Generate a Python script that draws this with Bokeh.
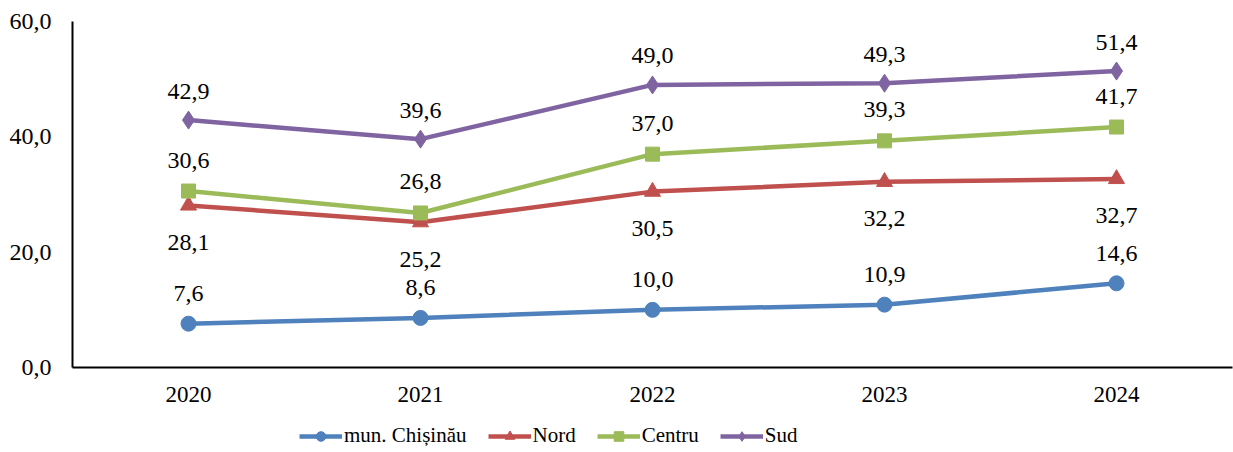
from bokeh.plotting import figure
from bokeh.layouts import column
from bokeh.models import ColumnDataSource, FixedTicker, Legend, LegendItem, LabelSet, Range1d, FactorRange
from bokeh.embed import file_html
from bokeh.resources import INLINE

years = ["2020", "2021", "2022", "2023", "2024"]
chisinau = [7.6, 8.6, 10.0, 10.9, 14.6]
nord = [28.1, 25.2, 30.5, 32.2, 32.7]
centru = [30.6, 26.8, 37.0, 39.3, 41.7]
sud = [42.9, 39.6, 49.0, 49.3, 51.4]
y_ticks = [0, 20, 40, 60]

FONT = "Liberation Serif"

p = figure(width=1233, height=413, x_range=FactorRange(*years), y_range=Range1d(0, 60),
           output_backend="svg", toolbar_location=None,
           min_border_left=72, min_border_right=1, min_border_top=21, min_border_bottom=46)
p.outline_line_color = None
p.grid.grid_line_color = None
p.background_fill_color = "white"

p.yaxis.ticker = FixedTicker(ticks=y_ticks)
p.yaxis.major_label_overrides = {t: f"{t:.1f}".replace(".", ",") for t in y_ticks}
p.yaxis.major_tick_line_color = None
p.yaxis.minor_tick_line_color = None
p.yaxis.axis_line_color = "black"
p.yaxis.axis_line_width = 2
p.yaxis.major_label_standoff = 15
p.yaxis.major_label_text_font_size = "24px"
p.xaxis.major_tick_line_color = None
p.xaxis.major_tick_out = 0
p.xaxis.axis_line_color = "black"
p.xaxis.axis_line_width = 2
p.xaxis.major_label_standoff = 19
p.xaxis.major_label_text_font_size = "23px"
for ax in (p.xaxis, p.yaxis):
    ax.major_label_text_font = FONT
    ax.major_label_text_color = "black"

series = [
    ("mun. Chișinău", chisinau, "#4F81BD", "circle", 15, -30),
    ("Nord", nord, "#C0504D", "triangle", 16, 37),
    ("Centru", centru, "#9BBB59", "square", 14, -31),
    ("Sud", sud, "#8064A2", "diamond", 18, -29),
]

# separate strip below the chart that holds the legend
lg = figure(width=1233, height=39, x_range=Range1d(0, 1), y_range=Range1d(0, 1),
            x_axis_location=None, y_axis_location=None,
            output_backend="svg", toolbar_location=None,
            min_border_left=0, min_border_right=0, min_border_top=0, min_border_bottom=0)
lg.grid.grid_line_color = None
lg.outline_line_color = None

items = []
for name, vals, color, marker, size, off in series:
    src = ColumnDataSource(dict(x=years, y=vals, lbl=[f"{v:.1f}".replace(".", ",") for v in vals]))
    p.line("x", "y", source=src, line_color=color, line_width=4.5)
    p.scatter("x", "y", source=src, marker=marker, size=size, fill_color=color, line_color=color)
    labels = LabelSet(x="x", y="y", text="lbl", source=src, y_offset=-off,
                      text_align="center", text_baseline="middle",
                      text_font=FONT, text_font_size="24px", text_color="black")
    p.add_layout(labels)
    # legend proxies: placed outside the strip's ranges so only the legend shows them
    proxy = ColumnDataSource(dict(x=[5, 6], y=[5, 5]))
    ln = lg.line("x", "y", source=proxy, line_color=color, line_width=4.5)
    mk = lg.scatter("x", "y", source=proxy, marker=marker, size=size, fill_color=color, line_color=color)
    items.append(LegendItem(label=name, renderers=[ln, mk]))

legend = Legend(items=items, orientation="horizontal", location=(227, 4),
                label_text_font=FONT, label_text_font_size="21px", label_text_color="black",
                glyph_width=43, glyph_height=24, label_height=24, spacing=21, padding=0, margin=0,
                border_line_color=None, background_fill_alpha=0, label_standoff=2)
lg.add_layout(legend, "center")

layout = column(p, lg, spacing=0)
open("out.html", "w").write(file_html(layout, INLINE))
